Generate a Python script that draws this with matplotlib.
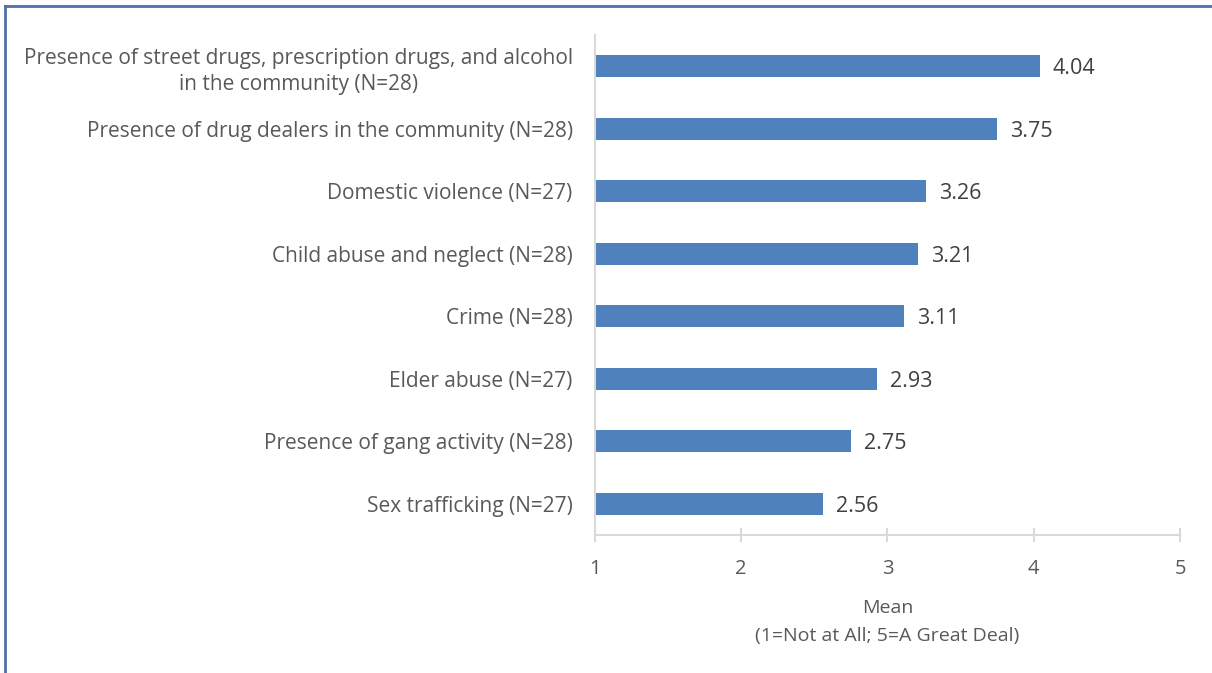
import matplotlib
matplotlib.use("Agg")
import matplotlib.pyplot as plt
from matplotlib.lines import Line2D

# Chart data (top to bottom)
categories = [
    "Presence of street drugs, prescription drugs, and alcohol\nin the community (N=28)",
    "Presence of drug dealers in the community (N=28)",
    "Domestic violence (N=27)",
    "Child abuse and neglect (N=28)",
    "Crime (N=28)",
    "Elder abuse (N=27)",
    "Presence of gang activity (N=28)",
    "Sex trafficking (N=27)",
]
means = [4.04, 3.75, 3.26, 3.21, 3.11, 2.93, 2.75, 2.56]
xticks = [1, 2, 3, 4, 5]

plt.rcParams['font.family'] = ['Open Sans', 'DejaVu Sans']

fig = plt.figure(figsize=(12.12, 6.73), dpi=100)
ax = fig.add_axes([0.4909, 0.2051, 0.4827, 0.7429])

ypos = list(range(len(categories)))[::-1]
ax.barh(ypos, [m - 1 for m in means], left=1, height=0.35, color='#4f81bd')

for y, m in zip(ypos, means):
    ax.text(m + 0.09, y - 0.04, f"{m:.2f}", va='center', ha='left', fontsize=15.5, color='#404040')

ax.set_xlim(1, 5)
ax.set_ylim(-0.5, 7.5)
ax.set_xticks(xticks)
ax.set_xticklabels([str(t) for t in xticks], fontsize=14.5, color='#595959')
ax.set_yticks(ypos)
ax.set_yticklabels(categories, fontsize=15, color='#595959', multialignment='center', linespacing=1.3)
ax.tick_params(axis='y', length=0, pad=16)
ax.tick_params(axis='x', direction='inout', length=10, width=1.5, color='#d9d9d9', pad=12)

for side in ['top', 'right']:
    ax.spines[side].set_visible(False)
ax.spines['left'].set_color('#d9d9d9')
ax.spines['bottom'].set_color('#d9d9d9')
ax.spines['left'].set_linewidth(1.5)
ax.spines['bottom'].set_linewidth(1.5)

ax.set_xlabel("Mean\n(1=Not at All; 5=A Great Deal)", fontsize=14, color='#595959', labelpad=15, linespacing=1.65)

# blue frame on the top and left of the figure
fig.add_artist(Line2D([0.0045, 0.0045], [0, 0.991], transform=fig.transFigure, color='#4f6fa8', lw=2))
fig.add_artist(Line2D([0.0045, 1], [0.991, 0.991], transform=fig.transFigure, color='#4f6fa8', lw=2))

fig.savefig("out.png", dpi=100, facecolor='white')
